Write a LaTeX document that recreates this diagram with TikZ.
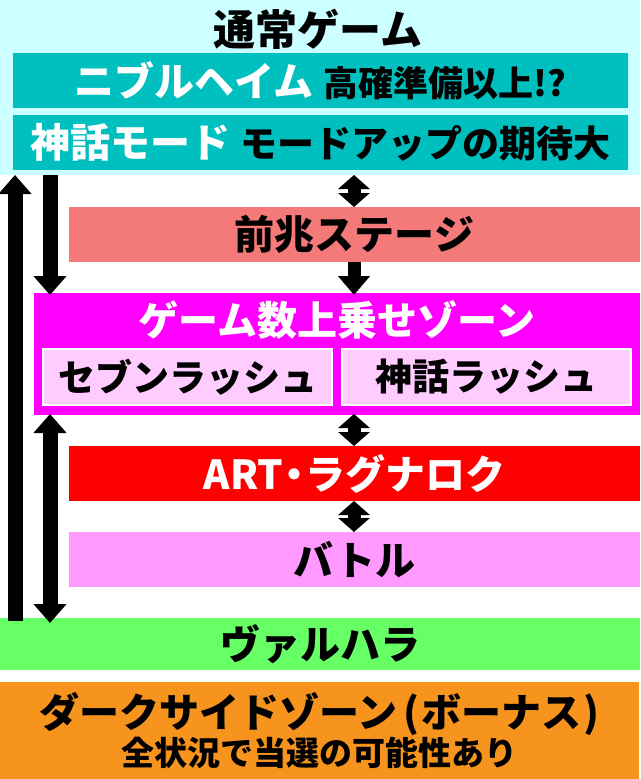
\documentclass[tikz,border=0pt]{standalone}
\usepackage{fontspec}
\setmainfont{Noto Sans CJK JP}[BoldFont={Noto Sans CJK JP Black}]
\usetikzlibrary{arrows.meta}

\definecolor{bgcyan}{RGB}{204,255,255}
\definecolor{barteal}{RGB}{0,191,191}
\definecolor{barsalmon}{RGB}{244,122,122}
\definecolor{barmagenta}{RGB}{255,0,255}
\definecolor{innerpink}{RGB}{255,204,255}
\definecolor{barpink}{RGB}{255,153,255}
\definecolor{bargreen}{RGB}{102,255,102}
\definecolor{barorange}{RGB}{247,148,30}

\begin{document}
\begin{tikzpicture}[x=1pt,y=-1pt,
    bar/.style={rectangle,inner sep=0pt,outer sep=0pt,font=\bfseries\fontsize{40}{44}\selectfont},
    rush/.style={bar,draw=white,line width=2pt,fill=innerpink,minimum width=289,minimum height=56,font=\bfseries\fontsize{37}{40}\selectfont},
    bigarrow/.style={line width=15pt,-{Triangle[width=32pt,length=19pt]}},
    twoway/.style={line width=13pt,{Triangle[width=31pt,length=14pt]}-{Triangle[width=31pt,length=14pt]}},
    oneway/.style={line width=13pt,-{Triangle[width=31pt,length=19pt]}}]

    \useasboundingbox (0,0) rectangle (640,779);

    % normal game area
    \node[bar,fill=bgcyan,minimum width=640,minimum height=175] (topbg) at (320,87.5) {};
    \node[bar,font=\bfseries\fontsize{42}{44}\selectfont] (title) at (318,29) {通常ゲーム};
    \node[bar,fill=barteal,minimum width=615,minimum height=55] (nifl) at (320.5,80.5)
        {\textcolor{white}{ニブルヘイム}\hspace{10pt}{\fontsize{35}{40}\selectfont 高確準備以上!?}};
    \node[bar,fill=barteal,minimum width=615,minimum height=55] (mode) at (320.5,142.5)
        {\textcolor{white}{神話モード}\hspace{10pt}{\fontsize{37}{40}\selectfont モードアップの期待大}};

    % stages
    \node[bar,fill=barsalmon,minimum width=571,minimum height=55] (zencho) at (354.5,234.5) {前兆ステージ};
    \node[bar,fill=barmagenta,minimum width=606,minimum height=122] (zone) at (337,354) {};
    \node[bar,text=white] (zonetitle) at (337,320) {ゲーム数上乗せゾーン};
    \node[rush] (seven) at (187.5,377) {セブンラッシュ};
    \node[rush] (myth) at (486.5,377) {神話ラッシュ};
    \node[bar,fill=red,text=white,minimum width=571,minimum height=55] (art) at (354.5,473.5)
        {ART\hspace{-9pt}・\hspace{-9pt}ラグナロク};
    \node[bar,fill=barpink,minimum width=571,minimum height=55] (battle) at (354.5,559.5) {バトル};
    \node[bar,fill=bargreen,minimum width=640,minimum height=52] (valhalla) at (320,644) {ヴァルハラ};
    \node[bar,fill=barorange,minimum width=640,minimum height=97,align=center] (dark) at (319,730.5)
        {ダークサイドゾーン\hspace{6pt}(\hspace{2pt}ボーナス\hspace{2pt})\\[-6pt]{\fontsize{33}{36}\selectfont 全状況で当選の可能性あり}};

    % arrow columns
    \coordinate (upx) at (15,0);
    \coordinate (dnx) at (50,0);
    \coordinate (midx) at (354,0);

    % left arrows
    \draw[bigarrow] ([yshift=-3pt]valhalla.north -| upx) -- (topbg.south -| upx);
    \draw[bigarrow] (topbg.south -| dnx) -- ([yshift=-2pt]zone.north -| dnx);
    \draw[line width=15pt,{Triangle[width=32pt,length=19pt]}-{Triangle[width=32pt,length=19pt]}]
        ([yshift=1pt]zone.south -| dnx) -- ([yshift=-5pt]valhalla.north -| dnx);

    % middle arrows
    \draw[twoway] (topbg.south -| midx) -- (zencho.north -| midx);
    \draw[oneway] (zencho.south -| midx) -- ([yshift=-2pt]zone.north -| midx);
    \draw[twoway] ([yshift=1pt]zone.south -| midx) -- (art.north -| midx);
    \draw[twoway] (art.south -| midx) -- (battle.north -| midx);

\end{tikzpicture}
\end{document}
